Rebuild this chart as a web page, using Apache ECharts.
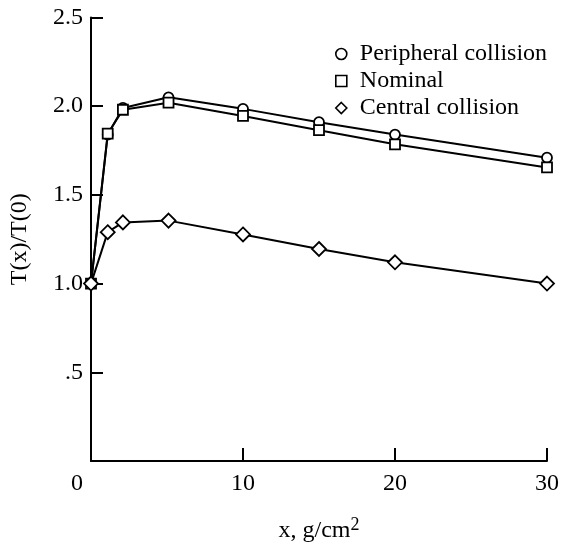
<!DOCTYPE html>
<html>
<head>
<meta charset="utf-8">
<script src="https://cdn.jsdelivr.net/npm/echarts@6/dist/echarts.min.js"></script>
<style>
  html, body { margin: 0; padding: 0; background: #fff; }
  #chart { width: 563px; height: 548px; }
</style>
</head>
<body>
<div id="chart"></div>
<script>
var xValues = [0, 1.1, 2.1, 5.1, 10, 15, 20, 30];
var peripheral = [1.0, 1.84, 1.99, 2.05, 1.985, 1.91, 1.84, 1.71];
var nominal = [1.0, 1.845, 1.98, 2.02, 1.945, 1.865, 1.785, 1.655];
var central = [1.0, 1.29, 1.345, 1.355, 1.277, 1.195, 1.12, 1.0];
var seriesNames = ['Peripheral collision', 'Nominal', 'Central collision'];
var seriesSymbols = ['circle', 'rect', 'diamond'];

var fontFamily = '"Liberation Serif", "DejaVu Serif", serif';

function pairs(ys) {
    return xValues.map(function (x, i) { return [x, ys[i]]; });
}

function makeSeries(name, ys, symbol, size) {
    return {
        name: name,
        type: 'line',
        data: pairs(ys),
        symbol: symbol,
        symbolSize: size,
        showAllSymbol: true,
        lineStyle: { color: '#000', width: 2 },
        itemStyle: { color: '#fff', borderColor: '#000', borderWidth: 1.8 },
        emphasis: { disabled: true },
        animation: false
    };
}

var chartDom = document.getElementById('chart');
var myChart = echarts.init(chartDom);

var option = {
    backgroundColor: '#fff',
    animation: false,
    grid: { left: 81, right: 16, top: 17.5, bottom: 65, containLabel: false },
    legend: {
        orient: 'vertical',
        left: 335,
        top: 42,
        itemWidth: 11,
        itemHeight: 11,
        itemGap: 3,
        padding: 0,
        selectedMode: false,
        textStyle: { fontFamily: fontFamily, fontSize: 24, lineHeight: 20, color: '#000', padding: [0, 0, 0, 8] },
        itemStyle: { color: '#fff', borderColor: '#000', borderWidth: 1.6 },
        data: seriesNames.map(function (n, i) {
            return { name: n, icon: seriesSymbols[i] };
        })
    },
    xAxis: {
        type: 'value',
        min: 0,
        max: 30,
        interval: 10,
        name: '{a|x, g/cm}{s|2}',
        nameLocation: 'middle',
        nameGap: 55,
        nameTextStyle: {
            rich: {
                a: { fontFamily: fontFamily, fontSize: 24, color: '#000' },
                s: { fontFamily: fontFamily, fontSize: 18, color: '#000', padding: [0, 0, 12, 0] }
            }
        },
        axisLine: { lineStyle: { color: '#000', width: 2 } },
        axisTick: { inside: true, length: 13, lineStyle: { color: '#000', width: 2 } },
        splitLine: { show: false },
        axisLabel: {
            margin: 11,
            fontFamily: fontFamily,
            fontSize: 24,
            color: '#000',
            formatter: function (v) {
                return v === 0 ? '{z|0}' : String(v);
            },
            rich: {
                z: { fontFamily: fontFamily, fontSize: 24, color: '#000', padding: [0, 28, 0, 0] }
            }
        }
    },
    yAxis: {
        type: 'value',
        min: 0,
        max: 2.5,
        interval: 0.5,
        name: 'T(x)/T(0)',
        nameLocation: 'middle',
        nameGap: 59,
        nameTextStyle: { fontFamily: fontFamily, fontSize: 24, color: '#000' },
        axisLine: { lineStyle: { color: '#000', width: 2 } },
        axisTick: { inside: true, length: 12, lineStyle: { color: '#000', width: 2 } },
        splitLine: { show: false },
        axisLabel: {
            margin: 8,
            fontFamily: fontFamily,
            fontSize: 24,
            color: '#000',
            formatter: function (v) {
                if (v === 0) return '';
                if (v === 0.5) return '.5';
                return v.toFixed(1);
            }
        }
    },
    series: [
        makeSeries(seriesNames[0], peripheral, 'circle', 10),
        makeSeries(seriesNames[1], nominal, 'rect', 10),
        makeSeries(seriesNames[2], central, 'diamond', 14)
    ]
};

myChart.setOption(option);

window.addEventListener('resize', function () {
    myChart.resize();
});
</script>
</body>
</html>
